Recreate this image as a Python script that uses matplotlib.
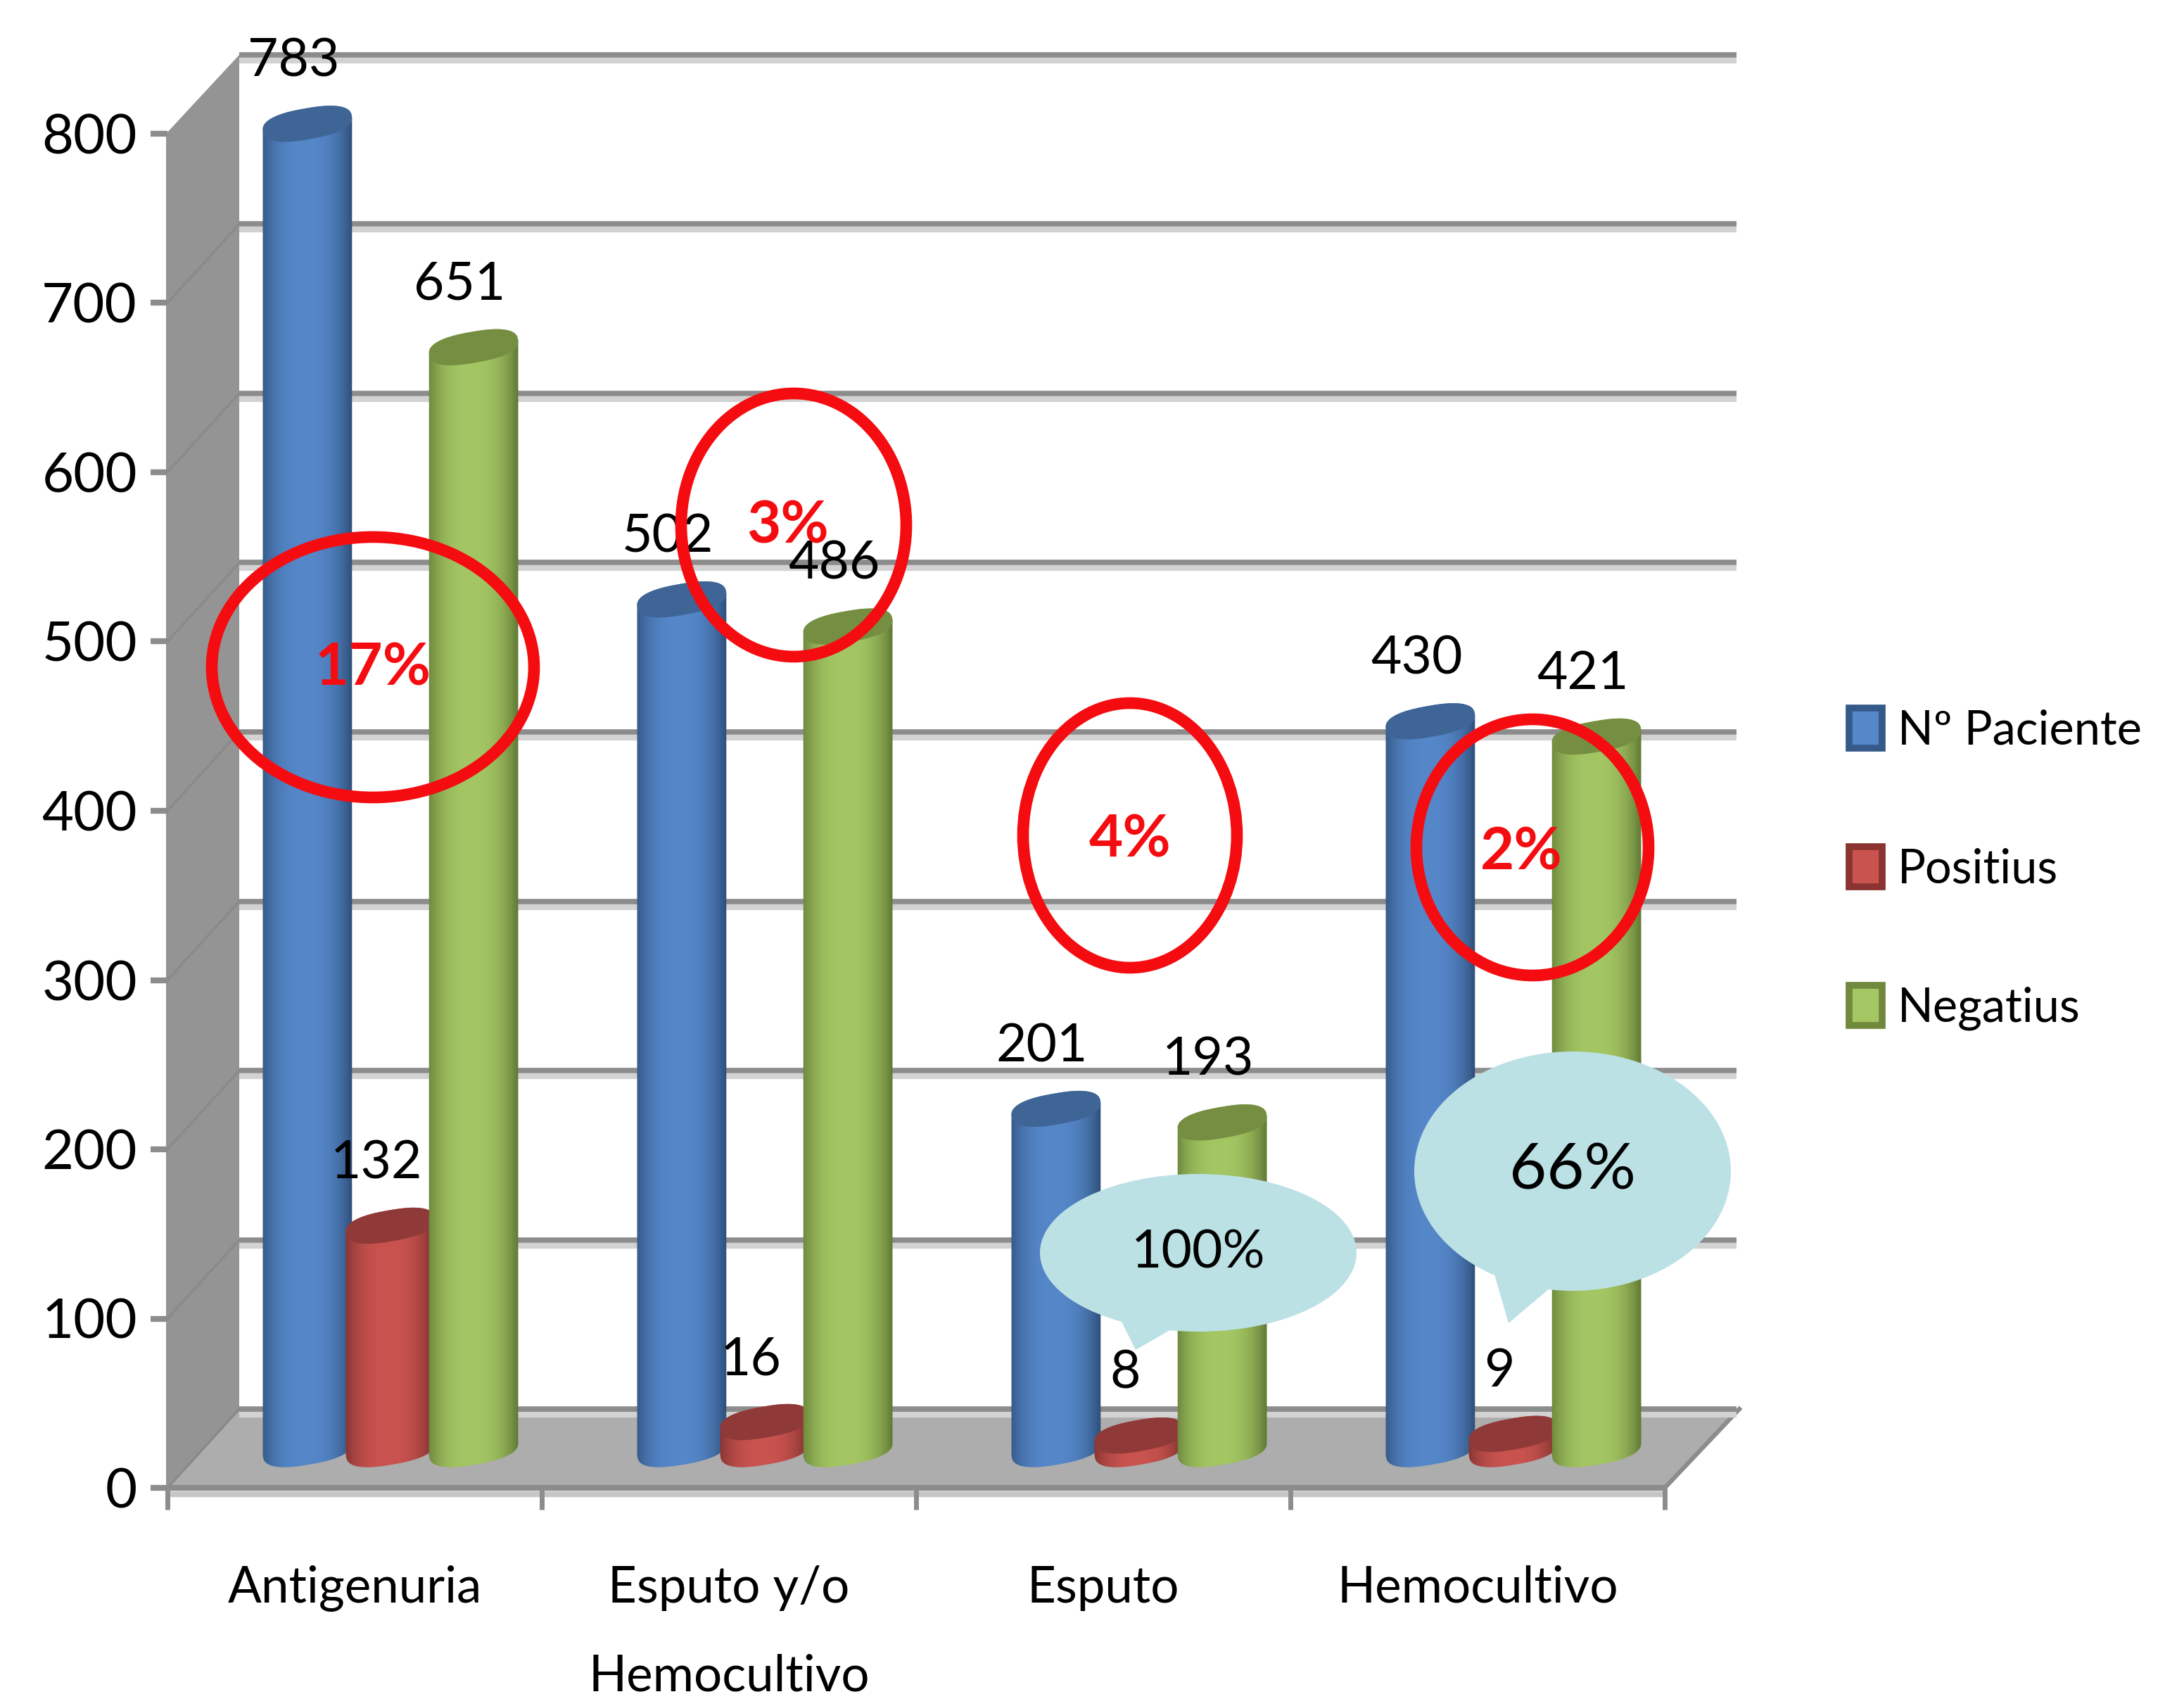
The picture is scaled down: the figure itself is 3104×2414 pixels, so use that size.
import numpy as np
import matplotlib
matplotlib.use("Agg")
import matplotlib.pyplot as plt
from matplotlib.colors import to_rgb
from matplotlib.patches import Ellipse, Patch, Polygon
from matplotlib.transforms import Affine2D

W, H = 3104, 2414
DPI = 100

categories = ["Antigenuria", "Esputo y/o\nHemocultivo", "Esputo", "Hemocultivo"]
series_names = ["Nº Paciente", "Positius", "Negatius"]
pacientes = [783, 502, 201, 430]
positius = [132, 16, 8, 9]
negatius = [651, 486, 193, 421]
y_ticks = [0, 100, 200, 300, 400, 500, 600, 700, 800]

circle_labels = ["17%", "3%", "4%", "2%"]
bubble_labels = ["100%", "66%"]

# edge, middle, top cap, legend border
blue = ("#2b4a72", "#5587c9", "#3e6596", "#355a8a")
red = ("#6f2a28", "#c9534f", "#8f3a38", "#8a3330")
green = ("#5a7230", "#a4c663", "#758e41", "#71893d")

plt.rcParams["font.family"] = ["Lato", "DejaVu Sans"]

# front plane of the fake 3d box, in pixels
LEFT, RIGHT, Y0, Y800 = 238, 2366, 2114, 190
DX, DY = 102, 112
GREY = "#8c8c8c"

fig = plt.figure(figsize=(W / DPI, H / DPI), dpi=DPI, facecolor="white")

# walls and floor go in a pixel axes behind the chart
bg = fig.add_axes([0, 0, 1, 1], zorder=0)
bg.set_xlim(0, W)
bg.set_ylim(H, 0)
bg.axis("off")
bg.add_patch(Polygon([(LEFT - 2, Y800), (LEFT + DX, Y800 - DY), (LEFT + DX, Y0 - DY), (LEFT - 2, Y0)],
                     color="#949494", lw=0))
bg.add_patch(Polygon([(LEFT, Y0), (LEFT + DX, Y0 - DY), (RIGHT + DX + 4, Y0 - DY), (RIGHT, Y0)],
                     color="#adadad", lw=0))
bg.plot([RIGHT, RIGHT + DX + 4], [Y0, Y0 - DY], color=GREY, lw=4.5)
for v in y_ticks[:-1]:
    yy = Y0 - v * (Y0 - Y800) / 800
    bg.plot([LEFT, LEFT + DX], [yy, yy - DY], color="#8a8a8a", lw=2.5)

ax = fig.add_axes([LEFT / W, 1 - Y0 / H, (RIGHT - LEFT) / W, (Y0 - Y800) / H], zorder=1)
ax.patch.set_alpha(0)
for s in ax.spines.values():
    s.set_visible(False)

back_tr = ax.transData + Affine2D().translate(DX, DY)
bar_tr = ax.transData + Affine2D().translate(51, 55)
shadow_tr = ax.transData + Affine2D().translate(DX, DY - 8)
front_shadow_tr = ax.transData + Affine2D().translate(0, -9)

ax.hlines(y_ticks, 0, 4, colors="#d2d2d2", lw=6, transform=shadow_tr, clip_on=False, zorder=1)
ax.hlines(y_ticks, 0, 4, colors=GREY, lw=5.5, transform=back_tr, clip_on=False, zorder=1.1)
ax.hlines([0], 0, 4, colors="#c6c6c6", lw=6, transform=front_shadow_tr, clip_on=False, zorder=1)
ax.hlines([0], 0, 4, colors=GREY, lw=6, clip_on=False, zorder=1.1)

PX_X = (RIGHT - LEFT) / 4
PX_Y = (Y0 - Y800) / 800
A, B, TILT = 64, 22, np.radians(10)
BAR_STEP = 0.222
BAR_W = 2 * A / PX_X


def ellipse_pts(xc, yc):
    # slightly squared off ellipse, the caps in the picture are not true ellipses
    t = np.linspace(0, 2 * np.pi, 121)[:-1]
    lx = A * np.sign(np.cos(t)) * np.abs(np.cos(t)) ** 0.8
    ly = B * np.sign(np.sin(t)) * np.abs(np.sin(t)) ** 0.8
    ex = lx * np.cos(TILT) - ly * np.sin(TILT)
    ey = lx * np.sin(TILT) + ly * np.cos(TILT)
    return xc + ex / PX_X, yc + ey / PX_Y


def gradient(edge, mid):
    e, m = np.array(to_rgb(edge)), np.array(to_rgb(mid))
    u = np.linspace(-1, 1, 64)
    k = np.clip(np.abs(u + 0.05) ** 2.6, 0, 1)[:, None]
    return (m * (1 - k) + e * k)[None, :, :]


def cylinder(xc, v, cols, z):
    xs, ys = ellipse_pts(xc, v)
    xb, yb = ellipse_pts(xc, 0)
    # upper half of the top cap joined to the lower half of the bottom one
    i_l, i_r = np.argmin(xs), np.argmax(xs)
    idx = np.arange(len(xs))
    up = np.roll(idx, -i_r)[:(i_l - i_r) % len(xs) + 1]
    low = np.roll(idx, -i_l)[:(i_r - i_l) % len(xs) + 1]
    outline = np.r_[np.c_[xs[up], ys[up]], np.c_[xb[low], yb[low]]]
    clip = Polygon(outline, closed=True, transform=bar_tr)
    half = BAR_W / 2 + 0.01
    im = ax.imshow(gradient(cols[0], cols[1]), extent=[xc - half, xc + half, -40, v + 40],
                   transform=bar_tr, aspect="auto", interpolation="bilinear", zorder=z)
    im.set_clip_path(clip)
    # the tallest bar goes above the axes box because of the depth offset
    im.set_clip_box(fig.bbox)
    ax.add_patch(Polygon(np.c_[xs, ys], closed=True, transform=bar_tr, facecolor=cols[2],
                         lw=0, zorder=z + 0.1, clip_on=False))


label_tr = bar_tr + Affine2D().translate(-20, 89)
for i in range(len(categories)):
    for j, (vals, cols) in enumerate(zip([pacientes, positius, negatius], [blue, red, green])):
        xc = i + 0.5 + (j - 1) * BAR_STEP
        cylinder(xc, vals[i], cols, 2 + i + j * 0.2)
        ax.text(xc, vals[i], str(vals[i]), transform=label_tr, ha="center", va="center",
                fontsize=54, color="black", zorder=8, clip_on=False)

ax.set_xlim(0, 4)
ax.set_ylim(0, 800)
ax.set_yticks(y_ticks)
ax.set_yticklabels([str(v) for v in y_ticks], fontsize=56)
ax.tick_params(axis="y", length=17, width=6, color=GREY, pad=14)
ax.set_xticks(range(5))
ax.set_xticklabels([])
ax.tick_params(axis="x", length=22, width=5, color=GREY)
ax.set_xticks([0.5, 1.5, 2.5, 3.5], minor=True)
ax.set_xticklabels(categories, minor=True, fontsize=51, linespacing=2.15)
ax.tick_params(axis="x", which="minor", length=0, pad=79)

handles = [Patch(facecolor=c[1], edgecolor=c[3], lw=7, label=n)
           for c, n in zip([blue, red, green], series_names)]
ax.legend(handles=handles, loc="center left", bbox_to_anchor=((2628 - LEFT) / (RIGHT - LEFT), 0.457),
          frameon=False, fontsize=48, handlelength=0.71, handleheight=0.94, handletextpad=0.33,
          labelspacing=2.0, borderpad=0, borderaxespad=0)

# hand drawn shapes on top, in pixels as well
top = fig.add_axes([0, 0, 1, 1], zorder=2)
top.set_xlim(0, W)
top.set_ylim(H, 0)
top.axis("off")
top.patch.set_alpha(0)

RED_MARK = "#f40c10"
circles = [(530, 948, 229, 185), (1128, 746, 160, 187), (1606, 1187, 152, 188), (2178, 1204, 165, 182)]
circle_text = [(530, 950), (1120, 748), (1606, 1194), (2162, 1212)]
for (cx, cy, rx, ry), (tx, ty), s in zip(circles, circle_text, circle_labels):
    top.add_patch(Ellipse((cx, cy), 2 * rx, 2 * ry, fill=False, edgecolor=RED_MARK, lw=12))
    top.text(tx, ty, s, color=RED_MARK, fontsize=60, fontweight="bold", ha="center", va="center")

BUBBLE = "#bbe1e5"
bubbles = [(1703, 1780, 225, 112), (2235, 1664, 225, 170)]
tails = [[(1585, 1860), (1614, 1918), (1680, 1880)], [(2118, 1790), (2144, 1880), (2215, 1820)]]
for (cx, cy, rx, ry), tail, s, fs in zip(bubbles, tails, bubble_labels, [54, 66]):
    top.add_patch(Ellipse((cx, cy), 2 * rx, 2 * ry, color=BUBBLE, lw=0))
    top.add_patch(Polygon(tail, color=BUBBLE, lw=0))
    top.text(cx, cy, s, color="black", fontsize=fs, ha="center", va="center")

fig.savefig("out.png", dpi=DPI)
